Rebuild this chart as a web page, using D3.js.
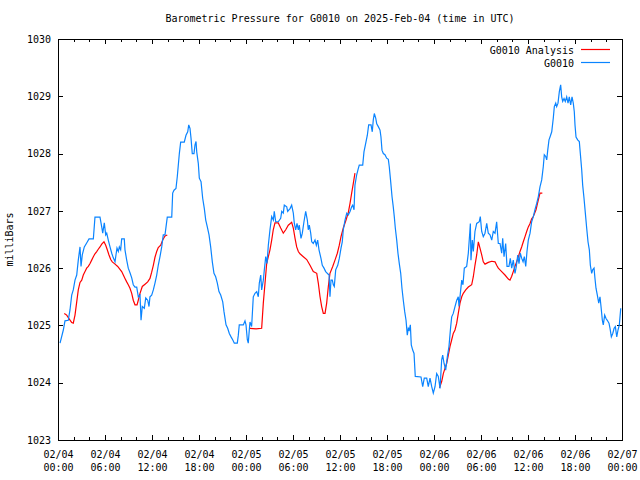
<!DOCTYPE html>
<html>
<head>
<meta charset="utf-8">
<script src="https://cdn.jsdelivr.net/npm/d3@7"></script>
<style>
  html, body { margin: 0; padding: 0; background: #fff; }
  svg { display: block; }
  text { font-family: "DejaVu Sans Mono", "Liberation Mono", monospace; font-size: 10px; fill: #000; }
</style>
</head>
<body>
<svg id="chart" width="640" height="480"></svg>
<script>
// ---- data (hours since 2025-02-04 00:00 UTC, pressure in mbar) ----
const titleText = "Barometric Pressure for G0010 on 2025-Feb-04 (time in UTC)";
const yLabelText = "milliBars";
const seriesNames = ["G0010 Analysis", "G0010"];
const yTicks = [1023, 1024, 1025, 1026, 1027, 1028, 1029, 1030];
const xMajorHours = [0, 6, 12, 18, 24, 30, 36, 42, 48, 54, 60, 66, 72];
const xDateLabels = ["02/04","02/04","02/04","02/04","02/05","02/05","02/05","02/05","02/06","02/06","02/06","02/06","02/07"];
const xTimeLabels = ["00:00","06:00","12:00","18:00","00:00","06:00","12:00","18:00","00:00","06:00","12:00","18:00","00:00"];

const analysis = [
[0.80,1025.21],[1.11,1025.18],[1.40,1025.12],[1.75,1025.05],[1.95,1025.04],[2.17,1025.18],[2.39,1025.41],[2.59,1025.62],[2.81,1025.75],[3.03,1025.79],[3.23,1025.88],[3.45,1025.94],[3.66,1026.00],[3.87,1026.03],[4.09,1026.08],[4.30,1026.14],[4.51,1026.20],[4.72,1026.25],[4.94,1026.29],[5.14,1026.33],[5.36,1026.37],[5.58,1026.42],[5.87,1026.46],[6.09,1026.40],[6.29,1026.32],[6.51,1026.23],[6.73,1026.15],[6.93,1026.11],[7.28,1026.07],[7.62,1026.03],[7.91,1025.98],[8.13,1025.94],[8.34,1025.88],[8.55,1025.82],[8.77,1025.76],[8.97,1025.71],[9.19,1025.65],[9.41,1025.56],[9.61,1025.44],[9.83,1025.36],[10.09,1025.36],[10.25,1025.44],[10.47,1025.56],[10.76,1025.68],[11.11,1025.72],[11.45,1025.76],[11.74,1025.82],[11.96,1025.93],[12.17,1026.05],[12.38,1026.19],[12.60,1026.29],[12.80,1026.36],[13.11,1026.40],[13.37,1026.49],[13.66,1026.56],[13.95,1026.58],
[14.0,null],
[24.51,1024.95],[25.28,1024.94],[26.00,1024.95],[26.21,1025.39],[26.43,1025.74],[26.64,1026.08],[26.85,1026.20],[27.06,1026.32],[27.28,1026.49],[27.48,1026.67],[27.70,1026.79],[28.12,1026.79],[28.43,1026.70],[28.76,1026.61],[29.07,1026.67],[29.40,1026.75],[29.83,1026.80],[30.04,1026.70],[30.26,1026.52],[30.47,1026.37],[30.68,1026.29],[30.89,1026.25],[31.32,1026.20],[31.75,1026.15],[32.17,1026.05],[32.59,1025.94],[33.03,1025.91],[33.23,1025.74],[33.45,1025.50],[33.66,1025.33],[33.87,1025.21],[34.09,1025.21],[34.30,1025.39],[34.51,1025.68],[34.72,1025.91],[35.07,1026.03],[35.36,1026.14],[35.66,1026.26],[35.91,1026.40],[36.13,1026.55],[36.42,1026.70],[36.77,1026.84],[37.06,1026.97],[37.28,1027.13],[37.49,1027.31],[37.70,1027.48],[37.91,1027.66],
[38.0,null],
[48.70,1023.91],[48.98,1024.02],[49.19,1024.16],[49.40,1024.25],[49.62,1024.34],[49.83,1024.48],[50.04,1024.63],[50.26,1024.75],[50.46,1024.86],[50.68,1024.92],[50.90,1025.04],[51.10,1025.21],[51.32,1025.39],[51.54,1025.50],[51.74,1025.56],[52.05,1025.62],[52.38,1025.67],[52.81,1025.71],[53.02,1025.85],[53.23,1026.05],[53.45,1026.23],[53.66,1026.46],[53.87,1026.35],[54.09,1026.23],[54.29,1026.11],[54.51,1026.07],[54.93,1026.10],[55.37,1026.12],[55.79,1026.11],[56.00,1026.05],[56.21,1026.00],[56.64,1025.94],[57.06,1025.88],[57.49,1025.81],[57.70,1025.79],[57.92,1025.86],[58.12,1025.94],[58.34,1026.03],[58.55,1026.11],[58.77,1026.20],[58.98,1026.29],[59.19,1026.37],[59.40,1026.46],[59.62,1026.55],[59.83,1026.64],[60.04,1026.72],[60.26,1026.78],[60.47,1026.86],[60.68,1026.90],[61.02,1027.02],[61.32,1027.19],[61.53,1027.31],[61.83,1027.31]
];

const observed = [
[0.26,1024.69],[0.68,1024.92],[0.89,1025.08],[1.31,1025.09],[1.53,1025.27],[1.75,1025.53],[1.95,1025.62],[2.17,1025.79],[2.39,1025.88],[2.59,1026.14],[2.81,1026.37],[2.94,1026.03],[3.10,1026.23],[3.36,1026.37],[3.66,1026.44],[3.96,1026.51],[4.51,1026.51],[4.72,1026.89],[5.36,1026.89],[5.58,1026.72],[5.71,1026.61],[5.91,1026.79],[6.09,1026.58],[6.22,1026.61],[6.42,1026.49],[6.64,1026.37],[6.86,1026.26],[7.06,1026.18],[7.28,1026.11],[7.40,1026.23],[7.53,1026.35],[7.70,1026.29],[7.83,1026.37],[8.00,1026.32],[8.13,1026.51],[8.46,1026.51],[8.55,1026.32],[8.77,1026.14],[8.97,1026.00],[9.19,1025.92],[9.41,1025.83],[9.61,1025.71],[9.83,1025.67],[10.05,1025.67],[10.25,1025.50],[10.47,1025.53],[10.60,1025.09],[10.76,1025.33],[11.02,1025.30],[11.20,1025.48],[11.45,1025.44],[11.62,1025.33],[11.74,1025.50],[11.96,1025.53],[12.17,1025.62],[12.38,1025.74],[12.60,1025.88],[12.80,1026.05],[13.02,1026.20],[13.24,1026.37],[13.44,1026.58],[13.66,1026.58],[13.79,1026.72],[13.95,1026.89],[14.52,1026.89],[14.64,1027.31],[14.81,1027.36],[15.06,1027.39],[15.23,1027.60],[15.49,1028.00],[15.66,1028.20],[16.12,1028.20],[16.34,1028.32],[16.56,1028.38],[16.69,1028.50],[16.85,1028.44],[16.98,1028.27],[17.14,1028.00],[17.36,1028.00],[17.49,1028.15],[17.62,1028.21],[17.71,1028.03],[17.91,1027.83],[18.04,1027.57],[18.26,1027.51],[18.47,1027.22],[18.68,1027.04],[18.86,1026.84],[19.06,1026.72],[19.28,1026.58],[19.49,1026.37],[19.70,1026.11],[19.91,1025.91],[20.13,1025.85],[20.34,1025.74],[20.55,1025.59],[20.77,1025.53],[21.03,1025.41],[21.19,1025.24],[21.45,1025.01],[21.66,1024.95],[21.87,1024.86],[22.09,1024.80],[22.30,1024.75],[22.51,1024.69],[22.89,1024.69],[23.02,1024.83],[23.14,1025.01],[23.66,1025.01],[23.87,1025.08],[24.00,1025.01],[24.17,1024.75],[24.29,1024.69],[24.42,1024.92],[24.51,1025.06],[24.72,1024.98],[24.93,1025.50],[25.15,1025.56],[25.37,1025.59],[25.57,1025.50],[25.70,1025.74],[25.88,1025.88],[26.00,1025.62],[26.21,1025.79],[26.34,1025.97],[26.52,1026.20],[26.68,1026.08],[26.85,1026.40],[27.06,1026.67],[27.28,1026.90],[27.49,1026.84],[27.61,1026.99],[27.79,1026.81],[28.12,1026.81],[28.43,1026.87],[28.56,1026.99],[28.76,1026.96],[28.89,1027.10],[29.20,1027.07],[29.32,1026.99],[29.62,1027.04],[29.83,1027.10],[30.04,1026.96],[30.17,1026.78],[30.34,1026.67],[30.51,1026.78],[30.68,1026.67],[30.80,1026.75],[31.02,1026.52],[31.19,1026.61],[31.40,1026.81],[31.62,1026.99],[31.83,1026.84],[31.95,1026.67],[32.08,1026.75],[32.26,1026.61],[32.39,1026.46],[32.59,1026.43],[32.81,1026.49],[32.98,1026.40],[33.15,1026.49],[33.32,1026.32],[33.57,1026.17],[33.74,1026.05],[33.96,1026.00],[34.17,1025.94],[34.51,1025.89],[34.60,1025.89],[34.72,1025.50],[34.85,1025.79],[35.02,1025.79],[35.15,1025.71],[35.27,1025.68],[35.45,1025.97],[35.71,1026.05],[35.91,1026.17],[36.13,1026.35],[36.29,1026.46],[36.42,1026.67],[36.64,1026.84],[36.86,1026.96],[37.06,1026.93],[37.28,1026.99],[37.49,1027.07],[37.62,1027.10],[37.79,1027.02],[37.91,1027.45],[38.13,1027.63],[38.34,1027.74],[38.46,1027.80],[38.90,1027.80],[39.06,1028.03],[39.28,1028.18],[39.49,1028.32],[39.66,1028.50],[39.96,1028.50],[40.12,1028.38],[40.25,1028.59],[40.38,1028.70],[40.56,1028.62],[40.69,1028.52],[40.89,1028.47],[41.11,1028.41],[41.23,1028.29],[41.36,1028.06],[41.53,1028.00],[41.74,1027.98],[41.96,1027.92],[42.17,1027.90],[42.29,1027.77],[42.47,1027.51],[42.64,1027.25],[42.80,1027.07],[42.93,1026.90],[43.06,1026.70],[43.24,1026.49],[43.40,1026.26],[43.57,1026.08],[43.75,1025.91],[43.91,1025.65],[44.08,1025.44],[44.26,1025.24],[44.43,1025.09],[44.59,1024.83],[44.72,1024.95],[44.85,1024.92],[44.98,1025.01],[45.10,1024.66],[45.28,1024.57],[45.45,1024.51],[45.61,1024.11],[46.34,1024.10],[46.56,1023.93],[46.76,1024.08],[47.07,1024.08],[47.27,1023.93],[47.49,1024.08],[47.71,1023.93],[47.91,1023.82],[48.13,1023.93],[48.34,1024.16],[48.55,1024.11],[48.77,1023.90],[48.98,1024.40],[49.11,1024.48],[49.28,1024.34],[49.49,1024.22],[49.70,1024.45],[49.91,1024.63],[50.13,1024.98],[50.26,1025.15],[50.46,1025.21],[50.68,1025.33],[50.90,1025.44],[51.10,1025.50],[51.19,1025.33],[51.41,1025.62],[51.54,1025.79],[51.70,1025.71],[51.87,1026.00],[52.17,1026.03],[52.38,1026.26],[52.56,1026.61],[52.64,1026.78],[52.72,1026.14],[52.89,1026.49],[53.02,1026.29],[53.23,1026.64],[53.45,1026.78],[53.78,1026.81],[53.91,1026.90],[54.09,1026.64],[54.29,1026.55],[54.51,1026.61],[54.73,1026.78],[54.93,1026.61],[55.15,1026.58],[55.37,1026.49],[55.57,1026.64],[55.79,1026.61],[56.00,1026.81],[56.21,1026.43],[56.43,1026.43],[56.64,1026.26],[56.77,1026.52],[56.94,1026.20],[57.15,1026.43],[57.32,1026.03],[57.57,1026.03],[57.74,1026.17],[57.92,1026.00],[58.12,1026.14],[58.34,1025.91],[58.51,1026.03],[58.69,1026.23],[58.85,1026.08],[59.02,1026.26],[59.20,1026.17],[59.37,1026.11],[59.53,1026.20],[59.71,1026.03],[59.87,1026.29],[60.04,1026.49],[60.26,1026.61],[60.47,1026.81],[60.68,1026.90],[60.89,1027.02],[61.11,1027.13],[61.32,1027.25],[61.53,1027.42],[61.75,1027.54],[61.95,1027.77],[62.08,1027.98],[62.26,1027.95],[62.39,1027.89],[62.52,1028.06],[62.68,1028.24],[62.81,1028.29],[63.03,1028.38],[63.23,1028.62],[63.36,1028.82],[63.54,1028.88],[63.66,1028.82],[63.83,1028.88],[64.00,1029.08],[64.17,1029.20],[64.30,1028.99],[64.43,1028.91],[64.60,1028.96],[64.76,1028.91],[64.94,1028.99],[65.11,1028.88],[65.27,1028.99],[65.45,1028.85],[65.62,1028.99],[65.78,1028.88],[65.91,1028.73],[66.00,1028.50],[66.13,1028.29],[66.34,1028.24],[66.55,1028.21],[66.73,1027.92],[66.86,1027.71],[66.98,1027.45],[67.15,1027.22],[67.32,1026.96],[67.49,1026.70],[67.66,1026.46],[67.83,1026.32],[67.96,1026.05],[68.13,1025.91],[68.26,1025.97],[68.43,1026.00],[68.55,1025.82],[68.68,1025.65],[68.85,1025.53],[69.03,1025.39],[69.19,1025.50],[69.32,1025.33],[69.49,1025.09],[69.61,1025.01],[69.79,1025.18],[69.96,1025.12],[70.12,1025.09],[70.34,1025.04],[70.47,1024.95],[70.64,1024.80],[70.82,1024.86],[70.99,1024.95],[71.15,1024.98],[71.33,1024.80],[71.49,1024.92],[71.66,1025.01],[71.84,1025.30]
];

// ---- layout ----
const W = 640, H = 480;
const M = { left: 58, right: 622, top: 39, bottom: 440 };
const colors = { analysis: "#ff0000", observed: "#0a84ff" };

const svg = d3.select("#chart");
const x = d3.scaleLinear().domain([0, 72]).range([M.left, M.right]);
const y = d3.scaleLinear().domain([1023, 1030]).range([M.bottom, M.top]);

svg.append("rect").attr("width", W).attr("height", H).attr("fill", "#fff");

// title
svg.append("text").attr("x", (M.left + M.right) / 2).attr("y", 22)
  .attr("text-anchor", "middle").text(titleText);

// y label
svg.append("text")
  .attr("transform", `translate(13,${(M.top + M.bottom) / 2}) rotate(-90)`)
  .attr("text-anchor", "middle").text(yLabelText);

// axes
const minorHours = d3.range(0, 73, 2).filter(h => h % 6 !== 0);
function styleAxis(g) {
  g.select(".domain").remove();
  g.selectAll("line").attr("stroke", "#000").attr("shape-rendering", "crispEdges");
  g.selectAll("text").style("font-family", '"DejaVu Sans Mono", monospace').style("font-size", "10px");
}

// bottom major with labels
const gx = svg.append("g").attr("transform", `translate(0,${M.bottom})`)
  .call(d3.axisBottom(x).tickValues(xMajorHours).tickSize(-5).tickPadding(9).tickFormat(() => ""))
  .call(styleAxis);
gx.selectAll(".tick text").each(function(d) {
  const i = xMajorHours.indexOf(d);
  const t = d3.select(this).text(null).attr("dy", null).attr("y", 15);
  t.append("tspan").attr("x", 0).attr("y", 18).text(xDateLabels[i]);
  t.append("tspan").attr("x", 0).attr("y", 31).text(xTimeLabels[i]);
});
svg.append("g").attr("transform", `translate(0,${M.bottom})`)
  .call(d3.axisBottom(x).tickValues(minorHours).tickSize(-3).tickFormat(() => ""))
  .call(styleAxis);
// top mirrored
svg.append("g").attr("transform", `translate(0,${M.top})`)
  .call(d3.axisTop(x).tickValues(xMajorHours).tickSize(-5).tickFormat(() => ""))
  .call(styleAxis);
svg.append("g").attr("transform", `translate(0,${M.top})`)
  .call(d3.axisTop(x).tickValues(minorHours).tickSize(-3).tickFormat(() => ""))
  .call(styleAxis);
// left with labels
svg.append("g").attr("transform", `translate(${M.left},0)`)
  .call(d3.axisLeft(y).tickValues(yTicks).tickSize(-5).tickPadding(7).tickFormat(d3.format("d")))
  .call(styleAxis);
// right mirrored
svg.append("g").attr("transform", `translate(${M.right},0)`)
  .call(d3.axisRight(y).tickValues(yTicks).tickSize(-5).tickFormat(() => ""))
  .call(styleAxis);

// frame
svg.append("rect")
  .attr("x", M.left + 0.5).attr("y", M.top + 0.5)
  .attr("width", M.right - M.left).attr("height", M.bottom - M.top)
  .attr("fill", "none").attr("stroke", "#000").attr("stroke-width", 1);

// lines
const line = d3.line()
  .defined(d => d[1] != null)
  .x(d => x(d[0])).y(d => y(d[1]));

svg.append("path").datum(analysis)
  .attr("d", line).attr("fill", "none")
  .attr("stroke", colors.analysis).attr("stroke-width", 1.2);
svg.append("path").datum(observed)
  .attr("d", line).attr("fill", "none")
  .attr("stroke", colors.observed).attr("stroke-width", 1.2);

// legend
const legend = svg.append("g");
const legendItems = [
  { name: seriesNames[0], color: colors.analysis },
  { name: seriesNames[1], color: colors.observed }
];
legendItems.forEach((it, i) => {
  const yy = 50 + i * 13;
  legend.append("text").attr("x", 574).attr("y", yy).attr("dy", "0.35em")
    .attr("text-anchor", "end").text(it.name);
  legend.append("line").attr("x1", 581).attr("x2", 610)
    .attr("y1", yy - 0.5).attr("y2", yy - 0.5)
    .attr("stroke", it.color).attr("stroke-width", 1.2);
});
</script>
</body>
</html>
